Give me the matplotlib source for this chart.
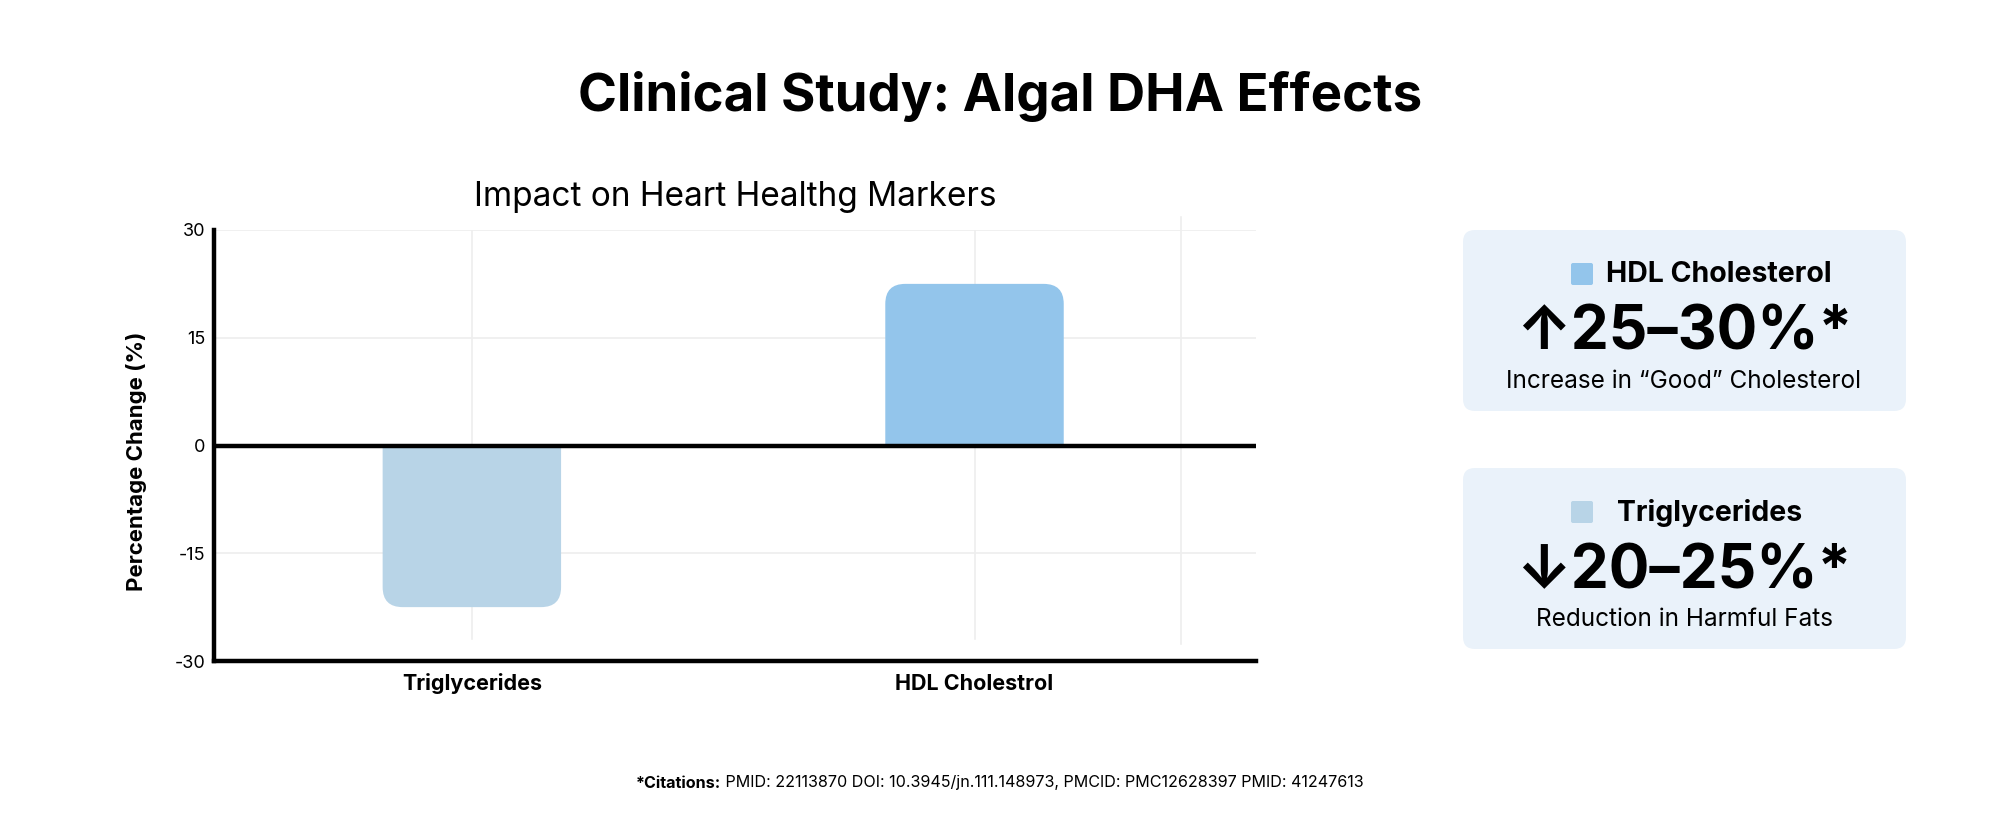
import matplotlib
matplotlib.use("Agg")
import matplotlib.pyplot as plt
from matplotlib.patches import FancyBboxPatch, PathPatch
from matplotlib.path import Path

plt.rcParams['font.family'] = ['Inter', 'DejaVu Sans']

# data
categories = ["Triglycerides", "HDL Cholestrol"]
changes = [-22.5, 22.5]
bar_colors = ["#B8D4E7", "#93C5EB"]
y_ticks = [-30, -15, 0, 15, 30]

card_heads = ["HDL Cholesterol", "Triglycerides"]
card_values = ["\u219125\u201330%*", "\u219320\u201325%*"]
card_notes = ["Increase in \u201cGood\u201d Cholesterol", "Reduction in Harmful Fats"]
card_colors = ["#93C5EB", "#B8D4E7"]

W, H = 2000, 818
fig = plt.figure(figsize=(W / 100, H / 100), dpi=100)
fig.patch.set_facecolor("white")

ax = fig.add_axes([214 / W, 1 - 661 / H, (1256 - 214) / W, (661 - 230) / H])
ax.set_xlim(-0.513, 1.56)
ax.set_ylim(-30, 30)

# grid
for yv in [30, 15, -15]:
    ax.axhline(yv, color="#EEEEEE", lw=1.2, zorder=0)
for xv in [0, 1]:
    ax.axvline(xv, ymin=0.05, ymax=1, color="#EEEEEE", lw=1.2, zorder=0)
ax.axvline(1.41, ymin=0.04, ymax=1.03, color="#EEEEEE", lw=1.2, zorder=0, clip_on=False)


def rounded_bar(ax, x, v, width, r_px, color):
    # bar with rounded corners only at the outer end
    p0 = ax.transData.transform((0, 0))
    p1 = ax.transData.transform((1, 1))
    rx = r_px / (p1[0] - p0[0])
    ry = r_px / (p1[1] - p0[1])
    s = 1 if v >= 0 else -1
    x0, x1 = x - width / 2, x + width / 2
    verts = [(x0, 0), (x0, v - s * ry), (x0, v), (x0 + rx, v),
             (x1 - rx, v), (x1, v), (x1, v - s * ry), (x1, 0), (x0, 0)]
    codes = [Path.MOVETO, Path.LINETO, Path.CURVE3, Path.CURVE3,
             Path.LINETO, Path.CURVE3, Path.CURVE3, Path.LINETO, Path.CLOSEPOLY]
    ax.add_patch(PathPatch(Path(verts, codes), fc=color, ec="none", zorder=2))


fig.canvas.draw()
for i, (v, c) in enumerate(zip(changes, bar_colors)):
    rounded_bar(ax, i, v, 0.355, 20, c)

ax.axhline(0, color="black", lw=3.2, zorder=3)

for s in ["top", "right"]:
    ax.spines[s].set_visible(False)
for s in ["left", "bottom"]:
    ax.spines[s].set_linewidth(3.2)
    ax.spines[s].set_zorder(4)

ax.set_yticks(y_ticks)
ax.set_yticklabels([str(t) for t in y_ticks], fontsize=13)
ax.tick_params(axis="y", length=0, pad=6)
ax.set_xticks(range(len(categories)))
ax.set_xticklabels(categories, fontsize=15.5, fontweight="bold")
ax.tick_params(axis="x", length=0, pad=9)
ax.set_ylabel("Percentage Change (%)", fontsize=16, fontweight="bold")
ax.yaxis.set_label_coords(-0.064, 0.464)

# titles
fig.text(1000 / W, 1 - 96 / H, "Clinical Study: Algal DHA Effects", ha="center", va="center",
         fontsize=38, fontweight="bold")
fig.text(735 / W, 1 - 197 / H, "Impact on Heart Healthg Markers", ha="center", va="center",
         fontsize=24)

# right-side cards
ov = fig.add_axes([0, 0, 1, 1], facecolor="none")
ov.set_xlim(0, W)
ov.set_ylim(H, 0)
ov.axis("off")

card_tops = [230, 468]
head_x = [1606, 1617]
for head, big, note, col, top, hx in zip(card_heads, card_values, card_notes,
                                          card_colors, card_tops, head_x):
    ov.add_patch(FancyBboxPatch((1463, top), 443, 181,
                                boxstyle="round,pad=0,rounding_size=12",
                                fc="#EAF2FA", ec="none"))
    ov.add_patch(FancyBboxPatch((1571, top + 33), 22, 22,
                                boxstyle="round,pad=0,rounding_size=2",
                                fc=col, ec="none"))
    ov.text(hx, top + 45, head, ha="left", va="center", fontsize=20.5, fontweight="bold")
    ov.text(1684, top + 104, big, ha="center", va="center", fontsize=43.5, fontweight="bold")
    ov.text(1684, top + 151, note, ha="center", va="center", fontsize=17.5)

# citation: bold lead-in followed by regular text, centred as one line
cit_bold = ov.text(0, 783, "*Citations:", ha="left", va="center", fontsize=11.6, fontweight="bold")
cit_rest = ov.text(0, 783, " PMID: 22113870 DOI: 10.3945/jn.111.148973, PMCID: PMC12628397 PMID: 41247613",
                   ha="left", va="center", fontsize=11.6)
fig.canvas.draw()
r = fig.canvas.get_renderer()
wb = cit_bold.get_window_extent(r).width
wr = cit_rest.get_window_extent(r).width
start = 1000 - (wb + wr) / 2
cit_bold.set_x(start)
cit_rest.set_x(start + wb)

fig.savefig("out.png", dpi=100, facecolor="white")
